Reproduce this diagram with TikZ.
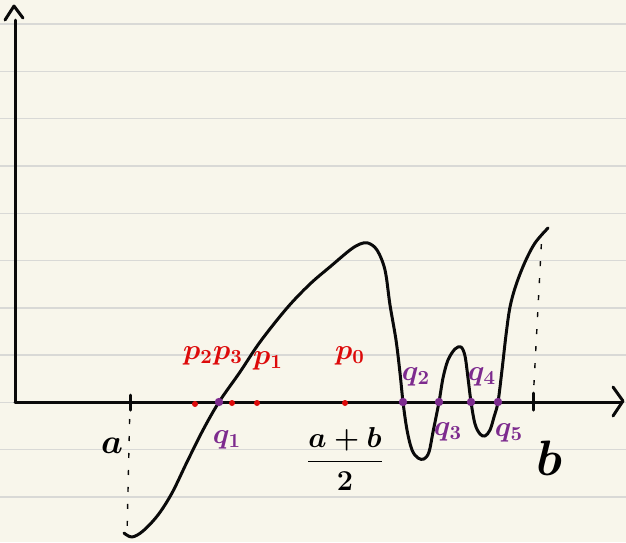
\documentclass[tikz,border=0pt]{standalone}
\usepackage{amsmath,amssymb}
\usepackage{xcolor}
\usepackage{tikz}
\usetikzlibrary{calc,arrows.meta,positioning}
\definecolor{paperc}{HTML}{F8F6EB}
\definecolor{rulec}{HTML}{D9D9D6}
\definecolor{inkc}{HTML}{0A0A0A}
\definecolor{redc}{HTML}{DD0A0A}
\definecolor{purpc}{HTML}{7D2B8E}
\tikzset{
  ink/.style={inkc,line width=1.5pt,line cap=round,line join=round},
  guide/.style={inkc,line width=0.7pt,dash pattern=on 2.5pt off 6pt},
  rdot/.style={circle,fill=redc,minimum size=3pt,inner sep=0pt},
  pdot/.style={circle,fill=purpc,minimum size=4.2pt,inner sep=0pt},
  plab/.style={text=redc,font=\Large\boldmath,inner sep=0pt},
  qlab/.style={text=purpc,font=\Large\boldmath,inner sep=0pt}
}

\begin{document}
\begin{tikzpicture}[x=0.5pt,y=-0.5pt]
\useasboundingbox (0,0) rectangle (626,542);
\fill[paperc] (0,0) rectangle (626,542);
\foreach \k in {0,...,10}
  \draw[rulec,line width=0.7pt] (0,{24+47.3*\k}) -- (626,{24+47.3*\k});
% axes
\coordinate (O) at (15,402);
\coordinate (xend) at (622,402);
\coordinate (yend) at (15,20);
\draw[ink] (O) -- (xend);
\draw[ink] (O) -- (yend);
\draw[ink] (613,387) -- (623,401) -- (613,416);
\draw[ink] (5,20) -- (14,6) -- (23,18);
% endpoints a and b
\coordinate (atick) at (130,402);
\coordinate (btick) at (533,402);
\coordinate (fa) at (127,535);
\coordinate (fb) at (542,232);
\draw[ink] ($(atick)+(0,-7)$) -- ($(atick)+(0,8)$);
\draw[ink] ($(btick)+(0,-9)$) -- ($(btick)+(0,8)$);
\draw[guide] (atick) -- (fa);
\draw[guide] (btick) -- (fb);
\node[font=\LARGE\boldmath,inner sep=0pt] (alab) at (112,446) {$a$};
\node[font=\fontsize{30}{30}\selectfont\boldmath,inner sep=0pt] (blab) at (549,458) {$b$};
\node[font=\Large\boldmath,inner sep=0pt] (mid) at (345,459) {$\dfrac{a+b}{2}$};
% the graph
\draw[ink] plot[smooth,tension=0.55] coordinates {
  (124,533) (132,537) (143,531) (158,515) (172,493) (187,462) (203,430)
  (219,402) (240,372) (260,342) (287,308) (310,284) (331,266) (350,250)
  (360,244) (368,243) (377,250) (385,270) (390,305) (396,340) (400,373)
  (403,402) (407,430) (412,450) (418,458) (424,459) (429,452) (433,432)
  (439,402) (443,378) (448,360) (455,349) (461,347) (465,356) (468,378)
  (471,402) (475,424) (480,434) (485,436) (490,430) (494,417) (498,402)
  (502,370) (506,335) (510,307) (516,285) (525,262) (535,243) (548,228)};
% bisection points
\node[rdot] (p0) at (345,403) {};
\node[rdot] (p1) at (257,403) {};
\node[rdot] (p2) at (195,404) {};
\node[rdot] (p3) at (232,403) {};
\node[plab] (p0lab) at (350,356) {$p_0$};
\node[plab] (p1lab) at (268,361) {$p_1$};
\node[plab] (p2lab) at (198,356) {$p_2$};
\node[plab] (p3lab) at (228,356) {$p_3$};
% zeros
\node[pdot] (q1) at (219,402) {};
\node[pdot] (q2) at (403,402) {};
\node[pdot] (q3) at (439,402) {};
\node[pdot] (q4) at (471,402) {};
\node[pdot] (q5) at (498,402) {};
\node[qlab] (q1lab) at (227,440) {$q_1$};
\node[qlab] (q2lab) at (416,377) {$q_2$};
\node[qlab] (q3lab) at (448,432) {$q_3$};
\node[qlab] (q4lab) at (482,377) {$q_4$};
\node[qlab] (q5lab) at (509,433) {$q_5$};
\end{tikzpicture}
\end{document}
